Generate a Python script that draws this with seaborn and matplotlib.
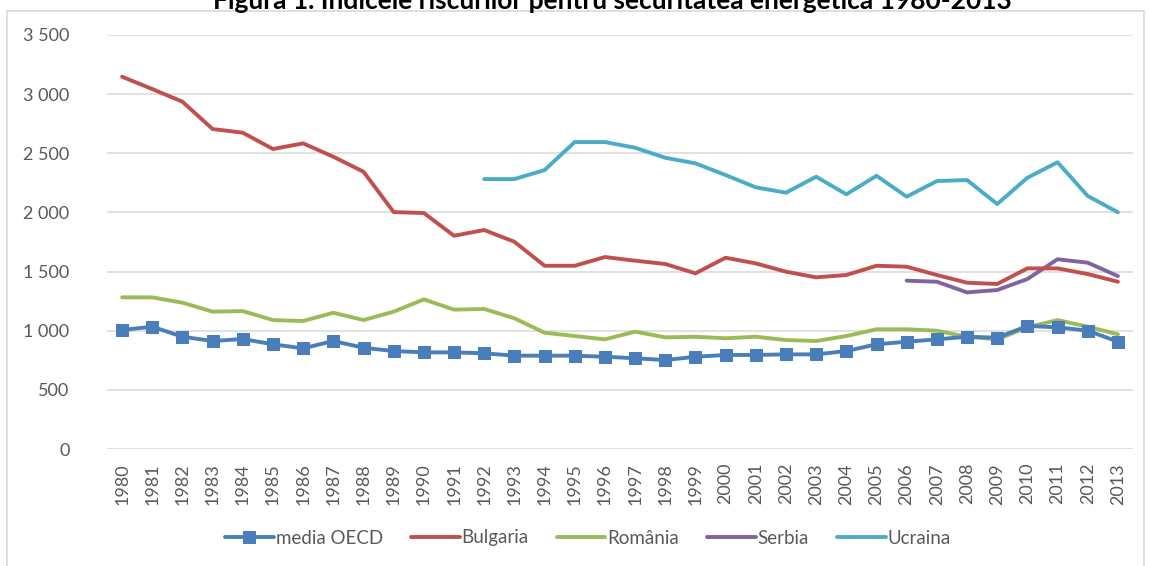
import matplotlib
matplotlib.use("Agg")
import matplotlib.pyplot as plt
import matplotlib.ticker as mticker
from matplotlib.patches import Rectangle
import seaborn as sns
import pandas as pd

# Data
years = list(range(1980, 2014))
oecd = [1006, 1034, 949, 913, 930, 885, 851, 913, 856, 828, 817, 817, 809, 789, 789, 789, 780,
        767, 752, 780, 795, 795, 800, 800, 828, 885, 907, 927, 949, 941, 1040, 1029, 1000, 907]
bulgaria = [3147, 3043, 2936, 2705, 2674, 2536, 2584, 2471, 2344, 2003, 1995, 1803, 1851, 1752,
            1549, 1549, 1623, 1592, 1564, 1485, 1617, 1569, 1499, 1451, 1471, 1549, 1541, 1471,
            1406, 1395, 1527, 1527, 1479, 1414]
romania = [1282, 1282, 1237, 1161, 1166, 1090, 1082, 1152, 1090, 1161, 1265, 1178, 1184, 1105,
           983, 955, 927, 992, 944, 949, 936, 949, 921, 913, 955, 1012, 1012, 1000, 949, 927,
           1029, 1090, 1034, 970]
serbia_years = list(range(2006, 2014))
serbia = [1423, 1414, 1324, 1344, 1437, 1604, 1575, 1462]
ukraine_years = list(range(1992, 2014))
ukraine = [2282, 2282, 2358, 2595, 2595, 2547, 2462, 2415, 2316, 2212, 2167, 2302, 2153, 2310,
           2133, 2265, 2274, 2071, 2293, 2424, 2139, 2001]

title = "Figura 1. Indicele riscurilor pentru securitatea energetică 1980-2013"

sns.set_theme(style="white")
plt.rcParams["font.family"] = ["Lato", "DejaVu Sans"]

fig = plt.figure(figsize=(11.49, 5.66), dpi=100)
ax = fig.add_axes([107 / 1149, 1 - 449 / 566, 1026 / 1149, 414 / 566])

# outer chart frame
fig.patches.append(Rectangle((7 / 1149, -0.1), 1137 / 1149, 1 - 11 / 566 + 0.1,
                             transform=fig.transFigure, fill=False,
                             edgecolor="#D9D9D9", linewidth=1.2))

series = [
    ("Ucraina", ukraine_years, ukraine, "#4BACC6"),
    ("Serbia", serbia_years, serbia, "#8064A2"),
    ("România", years, romania, "#9BBB59"),
    ("Bulgaria", years, bulgaria, "#C0504D"),
]
for name, xs, ys, col in series:
    df = pd.DataFrame({"year": xs, "value": ys})
    sns.lineplot(data=df, x="year", y="value", color=col, linewidth=2.8, ax=ax, label=name)

df_oecd = pd.DataFrame({"year": years, "value": oecd})
sns.lineplot(data=df_oecd, x="year", y="value", color="#4A7EBB", linewidth=2.8, marker="s",
             markersize=8, markeredgecolor="#4A7EBB", ax=ax, label="media OECD")

ax.set_xlim(1979.5, 2013.5)
ax.set_ylim(0, 3500)
ax.set_yticks(range(0, 3501, 500))
ax.yaxis.set_major_formatter(mticker.FuncFormatter(lambda v, p: f"{v:,.0f}".replace(",", " ")))
ax.set_xticks(years)
ax.set_xticklabels([str(y) for y in years], rotation=90)
ax.tick_params(axis="y", length=0, pad=27, labelsize=13, labelcolor="#595959")
ax.tick_params(axis="x", length=0, pad=10, labelsize=13, labelcolor="#595959")
ax.grid(axis="y", color="#D9D9D9", linewidth=1.1)
ax.set_axisbelow(True)
for s in ax.spines.values():
    s.set_visible(False)
ax.set_xlabel("")
ax.set_ylabel("")

handles, labels = ax.get_legend_handles_labels()
order = ["media OECD", "Bulgaria", "România", "Serbia", "Ucraina"]
hmap = dict(zip(labels, handles))
ax.legend([hmap[k] for k in order], order, loc="center", bbox_to_anchor=(588 / 1149, 1 - 538 / 566),
          bbox_transform=fig.transFigure, ncol=5, frameon=False, fontsize=13.5,
          handlelength=2.6, handletextpad=0.1, columnspacing=1.5, labelcolor="#595959")

# title sits partly above the top edge, as in the reference
fig.text(612 / 1149, 1 - 9 / 566, title, ha="center", va="baseline", fontsize=19,
         fontweight="bold", color="black")

fig.savefig("out.png", dpi=100)
